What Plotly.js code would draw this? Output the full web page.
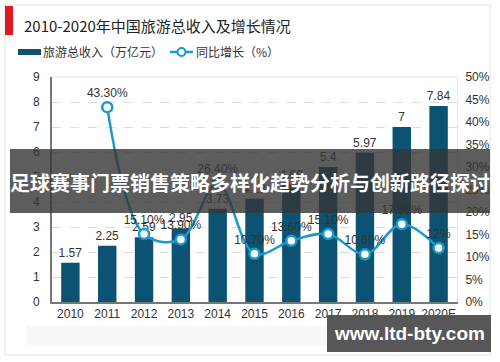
<!DOCTYPE html>
<html>
<head>
<meta charset="utf-8">
<script src="https://cdn.plot.ly/plotly-3.0.1.min.js"></script>
<style>
html,body{margin:0;padding:0;background:#fff;}
#chart{width:500px;height:362px;}
</style>
</head>
<body>
<div id="chart"></div>
<script>
const years = ['2010','2011','2012','2013','2014','2015','2016','2017','2018','2019','2020E'];
const revenue = [1.57, 2.25, 2.59, 2.95, 3.73, 4.13, 4.69, 5.4, 5.97, 7, 7.84];
const revenueLabels = ['1.57','2.25','2.59','2.95','3.73','4.13','4.69','5.4','5.97','7','7.84'];
const growth = [null, 0.433, 0.151, 0.139, 0.264, 0.107, 0.136, 0.151, 0.106, 0.173, 0.12];
const growthLabels = ['', '43.30%', '15.10%', '13.90%', '26.40%', '10.70%', '13.60%', '15.10%', '10.60%', '17.30%', '12%'];
const chartTitle = '2010-2020年中国旅游总收入及增长情况';
const seriesNames = ['旅游总收入（万亿元）', '同比增长（%）'];
const bannerText = '足球赛事门票销售策略多样化趋势分析与创新路径探讨';
const watermark = 'www.ltd-bty.com';

const FONT = 'Liberation Sans, Arial, Noto Sans CJK SC, sans-serif';
const CJK = 'Noto Sans CJK SC, Liberation Sans, sans-serif';
const BAR_COLOR = '#0b5273';
const LINE_COLOR = '#1a9ac4';

// pixel -> paper helpers (plot area: x 52..457, y 77..302)
const L = 52, R = 43, T = 77, B = 60, W = 500, H = 362;
const pw = W - L - R, ph = H - T - B;
const px = v => (v - L) / pw;
const py = v => (H - B - v) / ph;

const traces = [
  {
    type: 'bar', x: years, y: revenue, name: seriesNames[0],
    marker: {color: BAR_COLOR}, width: 0.5,
    text: revenueLabels, textposition: 'outside', cliponaxis: false, constraintext: 'none',
    textfont: {family: FONT, size: 12, color: '#333'},
    hoverinfo: 'skip'
  },
  {
    type: 'scatter', mode: 'lines+markers+text', x: years, y: growth, yaxis: 'y2',
    name: seriesNames[1], connectgaps: false,
    line: {color: LINE_COLOR, width: 2.5, shape: 'spline', smoothing: 1},
    marker: {symbol: 'circle', size: 10, color: '#ffffff', line: {color: LINE_COLOR, width: 2.5}},
    text: growthLabels, textposition: 'top center', cliponaxis: false,
    textfont: {family: FONT, size: 12, color: '#333'},
    hoverinfo: 'skip'
  }
];

const layout = {
  width: W, height: H,
  margin: {l: L, r: R, t: T, b: B, pad: 0},
  paper_bgcolor: '#ffffff', plot_bgcolor: '#ffffff',
  font: {family: FONT, size: 12, color: '#333'},
  showlegend: false,
  bargap: 0.5,
  xaxis: {
    type: 'category', range: [-0.5, 10.5],
    showline: true, linecolor: '#777', linewidth: 2,
    ticks: '', showgrid: false,
    tickfont: {family: FONT, size: 12, color: '#333'}
  },
  yaxis: {
    range: [0, 9], dtick: 1, tick0: 0,
    showline: true, linecolor: '#777', linewidth: 2,
    showgrid: true, gridcolor: '#dcdcdc', griddash: 'dash', gridwidth: 1,
    zeroline: false, ticks: '', ticklabelstandoff: 8,
    tickfont: {family: FONT, size: 12, color: '#333'}
  },
  yaxis2: {
    overlaying: 'y', side: 'right', range: [0, 0.5], dtick: 0.05, tick0: 0,
    tickformat: '.0%', showgrid: false, zeroline: false,
    showline: true, linecolor: '#e6e6e6', linewidth: 1,
    ticks: '', ticklabelstandoff: 5,
    tickfont: {family: FONT, size: 12, color: '#333'}
  },
  shapes: [
    {type: 'rect', xref: 'paper', yref: 'paper', x0: px(5), x1: px(490), y0: py(355), y1: py(5),
     line: {color: '#e2e2e2', width: 1}, fillcolor: 'rgba(0,0,0,0)', layer: 'below'},
    {type: 'line', xref: 'paper', yref: 'paper', x0: 0, x1: 1, y0: 1, y1: 1,
     line: {color: '#e6e6e6', width: 1}, layer: 'below'},
    {type: 'rect', xref: 'paper', yref: 'paper', x0: px(5), x1: px(13), y0: py(35), y1: py(6),
     line: {width: 0}, fillcolor: '#e0191f'},
    {type: 'rect', xref: 'paper', yref: 'paper', x0: px(18), x1: px(41), y0: py(55), y1: py(49),
     line: {width: 0}, fillcolor: BAR_COLOR},
    {type: 'line', xref: 'paper', yref: 'paper', x0: px(170), x1: px(193), y0: py(52), y1: py(52),
     line: {color: LINE_COLOR, width: 2.5}},
    {type: 'circle', xref: 'paper', yref: 'paper', x0: px(177.5), x1: px(185.5), y0: py(56), y1: py(48),
     line: {color: LINE_COLOR, width: 2}, fillcolor: '#ffffff'},
    {type: 'rect', xref: 'paper', yref: 'paper', x0: px(26), x1: px(327), y0: py(345), y1: py(325),
     line: {width: 0}, fillcolor: '#f8f8f8', layer: 'below'},
    {type: 'rect', xref: 'paper', yref: 'paper', x0: px(10), x1: px(490), y0: py(213), y1: py(149),
     line: {width: 0}, fillcolor: 'rgba(52,52,52,0.8)', layer: 'above'},
    {type: 'rect', xref: 'paper', yref: 'paper', x0: px(327), x1: px(491), y0: py(352), y1: py(315),
     line: {width: 0}, fillcolor: 'rgba(82,82,82,0.97)', layer: 'above'}
  ],
  annotations: [
    {text: chartTitle, xref: 'paper', yref: 'paper', x: px(22), y: py(25), xanchor: 'left', yanchor: 'middle',
     showarrow: false, font: {family: CJK, size: 15, color: '#222'}},
    {text: seriesNames[0], xref: 'paper', yref: 'paper', x: px(41), y: py(52), xanchor: 'left', yanchor: 'middle',
     showarrow: false, font: {family: CJK, size: 12, color: '#333'}},
    {text: seriesNames[1], xref: 'paper', yref: 'paper', x: px(194), y: py(52), xanchor: 'left', yanchor: 'middle',
     showarrow: false, font: {family: CJK, size: 12, color: '#333'}},
    {text: bannerText, xref: 'paper', yref: 'paper', x: px(250), y: py(182), xanchor: 'center', yanchor: 'middle',
     showarrow: false, font: {family: CJK, size: 20, color: '#ffffff', weight: 'bold'}},
    {text: '<b>' + watermark + '</b>', xref: 'paper', yref: 'paper', x: px(409), y: py(333), xanchor: 'center', yanchor: 'middle',
     showarrow: false, font: {family: 'Liberation Sans, Arial, sans-serif', size: 19, color: '#ffffff'}}
  ]
};

Plotly.newPlot('chart', traces, layout, {displayModeBar: false, staticPlot: true});
</script>
</body>
</html>
